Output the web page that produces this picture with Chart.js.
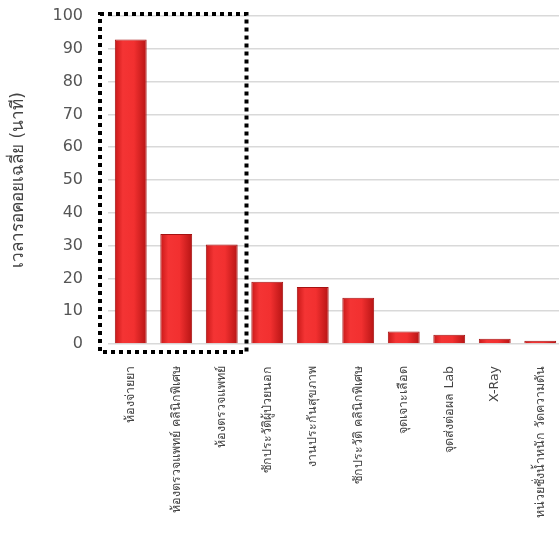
<!DOCTYPE html>
<html>
<head>
<meta charset="utf-8">
<script src="https://cdn.jsdelivr.net/npm/chart.js@4/dist/chart.umd.min.js"></script>
<style>
  html, body { margin: 0; padding: 0; background: #fff; overflow: hidden; }
  #wrap { width: 563px; height: 553px; }
</style>
</head>
<body>
<div id="wrap"><canvas id="wait_chart"></canvas></div>
<script>
// categories and values
var stations = [
  "ห้องจ่ายยา",
  "ห้องตรวจแพทย์ คลินิกพิเศษ",
  "ห้องตรวจแพทย์",
  "ซักประวัติผู้ป่วยนอก",
  "งานประกันสุขภาพ",
  "ซักประวัติ คลินิกพิเศษ",
  "จุดเจาะเลือด",
  "จุดส่งต่อผล Lab",
  "X-Ray",
  "หน่วยชั่งน้ำหนัก วัดความดัน"
];
var waitMinutes = [92.8, 33.5, 30.3, 19.0, 17.4, 14.1, 3.8, 2.8, 1.6, 1.0];
var yTicks = [0, 10, 20, 30, 40, 50, 60, 70, 80, 90, 100];
var yTitle = "เวลารอคอยเฉลี่ย (นาที)";
var boxedCount = 3; // first three bars framed by the dotted box

var fontFam = "'DejaVu Sans', 'Noto Sans', sans-serif";

// glossy red fill per bar
function barFill(c) {
  var chart = c.chart;
  var area = chart.chartArea;
  if (!area) return "#ee2b2b";
  var x = chart.scales.x.getPixelForValue(c.dataIndex);
  var w = (area.right - area.left) / stations.length * 0.7;
  var g = chart.ctx.createLinearGradient(x - w / 2, 0, x + w / 2, 0);
  g.addColorStop(0, "#c81818");
  g.addColorStop(0.25, "#f43434");
  g.addColorStop(0.6, "#f23030");
  g.addColorStop(1, "#b71414");
  return g;
}

// dotted frame around the first categories
var dottedBox = {
  id: "dottedBox",
  afterDatasetsDraw: function (chart) {
    var xs = chart.scales.x, ys = chart.scales.y;
    var step = xs.getPixelForValue(1) - xs.getPixelForValue(0);
    var left = xs.getPixelForValue(0) - step / 2 - 8;
    var right = xs.getPixelForValue(boxedCount - 1) + step / 2 + 2;
    var top = ys.getPixelForValue(100) - 2;
    var bottom = ys.getPixelForValue(0) + 8;
    var ctx = chart.ctx;
    ctx.save();
    ctx.strokeStyle = "#000";
    ctx.lineWidth = 4;
    ctx.setLineDash([4, 4]);
    ctx.strokeRect(left, top, right - left, bottom - top);
    ctx.restore();
  }
};

function noPad(s) {
  s.paddingTop = 0; s.paddingBottom = 0; s.paddingLeft = 0; s.paddingRight = 0;
}

var ctx = document.getElementById("wait_chart").getContext("2d");
var chart = new Chart(ctx, {
  type: "bar",
  data: {
    labels: stations,
    datasets: [{
      data: waitMinutes,
      backgroundColor: barFill,
      borderColor: "#a51212",
      borderWidth: 1,
      barPercentage: 0.7,
      categoryPercentage: 1.0
    }]
  },
  options: {
    responsive: true,
    maintainAspectRatio: false,
    animation: false,
    layout: { padding: { top: 16, left: 0, right: 0, bottom: 0 } },
    plugins: { legend: { display: false }, tooltip: { enabled: false } },
    scales: {
      x: {
        grid: { display: false, drawTicks: false },
        border: { display: false },
        ticks: {
          autoSkip: false,
          minRotation: 90,
          maxRotation: 90,
          padding: 22,
          color: "#444",
          font: { family: fontFam, size: 12.5 }
        },
        afterFit: function (s) { s.height = 553 - 344; noPad(s); }
      },
      y: {
        min: 0,
        max: 100,
        afterBuildTicks: function (s) { s.ticks = yTicks.map(function (v) { return { value: v }; }); },
        grid: { color: "#d9d9d9", lineWidth: 1.5, drawTicks: false },
        border: { display: false },
        ticks: {
          padding: 25,
          color: "#555",
          font: { family: fontFam, size: 16 }
        },
        title: {
          display: true,
          text: yTitle,
          color: "#444",
          padding: { top: 8, bottom: 0 },
          font: { family: fontFam, size: 17 }
        },
        afterFit: function (s) { s.width = 108; noPad(s); }
      }
    }
  },
  plugins: [dottedBox]
});
</script>
</body>
</html>
